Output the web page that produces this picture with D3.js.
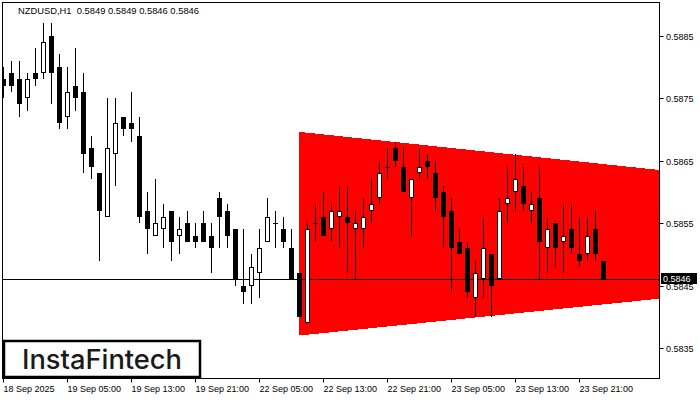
<!DOCTYPE html>
<html><head><meta charset="utf-8">
<script src="https://cdn.jsdelivr.net/npm/d3@7"></script>
<style>html,body{margin:0;padding:0;background:#fff;}svg{display:block;}</style>
</head><body>
<svg id="c" width="700" height="400"></svg>
<script>
// ---- data (NZDUSD, H1) ----
const opens  = [0.5878,0.5879,0.5878,0.5875,0.5879,0.5879,0.5885,0.5880,0.5872,0.5877,0.5876,0.5867,0.5863,0.5856,0.5866,0.5872,0.5871,0.5869,0.5857,0.5853,0.5854,0.5857,0.5853,0.5855,0.5853,0.5855,0.5853,0.5859,0.5857,0.5854,0.5845,0.5845,0.5847,0.5852,0.5855,0.5854,0.5851,0.5847,0.5839,0.5855,0.5856,0.5854,0.5856,0.5856,0.5854,0.5854,0.5857,0.5859,0.5864,0.5867,0.5864,0.5859,0.5863,0.5865,0.5863,0.5860,0.5857,0.5852,0.5851,0.5843,0.5846,0.5850,0.5846,0.5858,0.5860,0.5861,0.5857,0.5859,0.5851,0.5855,0.5852,0.5854,0.5850,0.5850,0.5854,0.5849];
const highs  = [0.5880,0.5881,0.5881,0.5879,0.5883,0.5887,0.5887,0.5882,0.5880,0.5883,0.5879,0.5869,0.5863,0.5875,0.5875,0.5872,0.5876,0.5872,0.5860,0.5862,0.5858,0.5857,0.5856,0.5857,0.5855,0.5857,0.5855,0.5860,0.5858,0.5854,0.5854,0.5850,0.5854,0.5859,0.5857,0.5856,0.5854,0.5847,0.5855,0.5858,0.5860,0.5858,0.5861,0.5861,0.5857,0.5859,0.5862,0.5865,0.5867,0.5868,0.5867,0.5862,0.5867,0.5866,0.5865,0.5861,0.5859,0.5854,0.5852,0.5849,0.5856,0.5850,0.5859,0.5864,0.5866,0.5864,0.5860,0.5864,0.5856,0.5855,0.5858,0.5858,0.5856,0.5856,0.5857,0.5849];
const lows   = [0.5875,0.5876,0.5872,0.5873,0.5877,0.5878,0.5874,0.5870,0.5870,0.5873,0.5863,0.5862,0.5849,0.5856,0.5861,0.5869,0.5868,0.5855,0.5850,0.5853,0.5851,0.5849,0.5850,0.5852,0.5851,0.5852,0.5847,0.5851,0.5851,0.5845,0.5842,0.5842,0.5843,0.5852,0.5851,0.5851,0.5846,0.5840,0.5839,0.5852,0.5853,0.5852,0.5851,0.5847,0.5846,0.5851,0.5855,0.5858,0.5862,0.5864,0.5860,0.5853,0.5862,0.5862,0.5857,0.5851,0.5844,0.5850,0.5843,0.5840,0.5843,0.5840,0.5846,0.5855,0.5857,0.5857,0.5855,0.5846,0.5847,0.5848,0.5847,0.5850,0.5848,0.5849,0.5849,0.5846];
const closes = [0.5877,0.5877,0.5874,0.5878,0.5878,0.5884,0.5879,0.5871,0.5876,0.5875,0.5866,0.5864,0.5857,0.5867,0.5871,0.5870,0.5870,0.5856,0.5854,0.5855,0.5856,0.5852,0.5854,0.5852,0.5852,0.5852,0.5851,0.5856,0.5853,0.5846,0.5844,0.5848,0.5851,0.5856,0.5855,0.5852,0.5846,0.5840,0.5854,0.5855,0.5853,0.5857,0.5857,0.5855,0.5855,0.5856,0.5858,0.5863,0.5864,0.5865,0.5860,0.5862,0.5864,0.5864,0.5859,0.5856,0.5851,0.5850,0.5844,0.5847,0.5851,0.5845,0.5857,0.5859,0.5862,0.5858,0.5858,0.5852,0.5854,0.5851,0.5853,0.5851,0.5849,0.5853,0.5850,0.5846];
const xTickIndex  = [0,8,16,24,32,40,48,56,64,72];
const xTickLabels = ["18 Sep 2025","19 Sep 05:00","19 Sep 13:00","19 Sep 21:00","22 Sep 05:00","22 Sep 13:00","22 Sep 21:00","23 Sep 05:00","23 Sep 13:00","23 Sep 21:00"];
const yTicks = [0.5835,0.5845,0.5855,0.5865,0.5875,0.5885];
const currentPrice = 0.5846;
const title = "NZDUSD,H1  0.5849 0.5849 0.5846 0.5846";
// triangle pattern: [barIndex, upper, lower]
const triStart = [37, 0.58696, 0.58370];
const triEnd   = [82, 0.58635, 0.58429];

// ---- layout ----
const L = 2, R = 659, T = 2, B = 378;
const svg = d3.select("#c");
const x = d3.scaleLinear().domain([0, 75]).range([3.3, 603.3]);
const y = d3.scaleLinear().domain([0.5835, 0.5885]).range([348, 35.7]);
const font = "'Liberation Sans', Arial, sans-serif";

svg.append("defs").append("clipPath").attr("id","plot")
  .append("rect").attr("x",L).attr("y",T).attr("width",R-L).attr("height",B-T);

const g = svg.append("g").attr("clip-path","url(#plot)");

// triangle
g.append("path")
  .attr("d", d3.line()([
    [x(triStart[0]), y(triStart[1])],
    [x(triEnd[0]), y(triEnd[1])],
    [x(triEnd[0]), y(triEnd[2])],
    [x(triStart[0]), y(triStart[2])]
  ]) + "Z")
  .attr("fill", "#ff0000")
  .attr("shape-rendering","crispEdges");

// current price line
g.append("line").attr("x1",L).attr("x2",R)
  .attr("y1", Math.round(y(currentPrice))+0.5).attr("y2", Math.round(y(currentPrice))+0.5)
  .attr("stroke","#000").attr("stroke-width",1);

// candles
const data = opens.map((o,i)=>({i,o,h:highs[i],l:lows[i],c:closes[i]}));
const cg = g.append("g");
data.forEach(d=>{
  const cx = Math.round(x(d.i));
  cg.append("line").attr("x1",cx+0.5).attr("x2",cx+0.5)
    .attr("y1",Math.round(y(d.h))).attr("y2",Math.round(y(d.l)))
    .attr("stroke","#000").attr("stroke-width",1);
  const top = Math.round(y(Math.max(d.o,d.c)));
  const bot = Math.round(y(Math.min(d.o,d.c)));
  if (d.o === d.c) {
    cg.append("line").attr("x1",cx-2).attr("x2",cx+3)
      .attr("y1",top+0.5).attr("y2",top+0.5).attr("stroke","#000");
  } else if (d.c < d.o) {
    cg.append("rect").attr("x",cx-2).attr("y",top).attr("width",5).attr("height",Math.max(1,bot-top)).attr("fill","#000");
  } else {
    cg.append("rect").attr("x",cx-1.5).attr("y",top+0.5).attr("width",4).attr("height",Math.max(1,bot-top-1))
      .attr("fill","#fff").attr("stroke","#000").attr("stroke-width",1);
  }
});

// frame
svg.append("rect").attr("x",L+0.5).attr("y",T+0.5).attr("width",R-L).attr("height",B-T)
  .attr("fill","none").attr("stroke","#000").attr("stroke-width",1);

// y axis
yTicks.forEach(v=>{
  const yy = Math.round(y(v))+0.5;
  svg.append("line").attr("x1",R+0.5).attr("x2",R+4.5).attr("y1",yy).attr("y2",yy).attr("stroke","#000");
  svg.append("text").attr("x",R+7).attr("y",yy+3.5).text(d3.format(".4f")(v))
    .attr("font-family",font).attr("font-size",9).attr("fill","#000");
});
// current price box
{
  const yy = Math.round(y(currentPrice));
  svg.append("rect").attr("x",R+2).attr("y",yy-6).attr("width",36).attr("height",11).attr("fill","#000");
  svg.append("text").attr("x",R+4).attr("y",yy+3).text(d3.format(".4f")(currentPrice))
    .attr("font-family",font).attr("font-size",9).attr("fill","#fff");
}

// x axis
xTickIndex.forEach((idx,k)=>{
  const xx = Math.round(x(idx))+0.5;
  svg.append("line").attr("x1",xx).attr("x2",xx).attr("y1",B+0.5).attr("y2",B+4.5).attr("stroke","#000");
  svg.append("text").attr("x",xx).attr("y",B+14).text(xTickLabels[k])
    .attr("font-family",font).attr("font-size",9).attr("fill","#000");
});

// title
svg.append("text").attr("x",18).attr("y",14).text(title).attr("xml:space","preserve")
  .style("white-space","pre")
  .attr("textLength",181).attr("lengthAdjust","spacingAndGlyphs")
  .attr("font-family",font).attr("font-size",9.3).attr("fill","#000");

// logo
svg.append("rect").attr("x",4).attr("y",341).attr("width",196).attr("height",36)
  .attr("fill","#fff").attr("stroke","#000").attr("stroke-width",2.5);
svg.append("text").attr("x",22).attr("y",369).text("InstaFintech")
  .attr("font-family","Inter, 'Open Sans', sans-serif").attr("font-size",27).attr("font-weight",500)
  .attr("textLength",160).attr("lengthAdjust","spacingAndGlyphs").attr("fill","#1a1a1a");
</script>
</body></html>
